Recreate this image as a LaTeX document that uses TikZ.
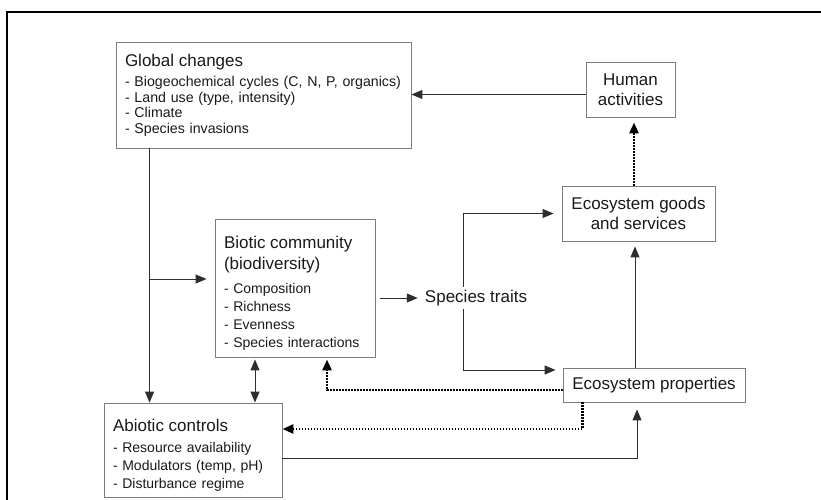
\documentclass[tikz,border=0pt]{standalone}
\usepackage{fontspec}
\setmainfont{Liberation Sans}
\usetikzlibrary{arrows.meta, positioning, calc}
\definecolor{boxgray}{RGB}{125, 125, 125}
\definecolor{linegray}{RGB}{45, 45, 45}
\definecolor{textgray}{RGB}{25, 25, 25}
\newcommand{\titlefont}{\fontsize{17}{20}\selectfont}
\newcommand{\topstrut}{\rule{0pt}{22pt}}

\begin{document}
\begin{tikzpicture}[x=1pt, y=-1pt,
    >={Triangle[length=11pt, width=9pt]},
    box/.style={draw=boxgray, line width=0.9pt, inner xsep=9pt, inner ysep=0pt, text=textgray},
    listbox/.style={box, align=left},
    flow/.style={draw=linegray, line width=1pt, ->},
    dotflow/.style={flow, draw=black, line width=2.6pt, dash pattern=on 1.6pt off 1.4pt}]
    \useasboundingbox (0,0) rectangle (821,500);

    % Frame
    \draw[line width=1.8pt] (7,500) -- (7,12) -- (821,12);

    % Boxes
    \node[listbox, text width=277pt, minimum height=106pt, font=\fontsize{14.2}{15.5}\selectfont] (glob) at (263.5,95)
        {{\titlefont Global changes}\\[5pt]
         - Biogeochemical cycles (C, N, P, organics)\\
         - Land use (type, intensity)\\
         - Climate\\
         - Species invasions};
    \node[box, align=center, font=\titlefont, minimum width=89pt, minimum height=55pt] (human) at (630.5,89.5)
        {Human\\activities};
    \node[box, align=center, font=\titlefont, minimum width=153pt, minimum height=55pt] (goods) at (638.5,213.5)
        {Ecosystem goods\\and services};
    \node[listbox, text width=142pt, minimum height=138pt, font=\fontsize{14}{18}\selectfont] (bio) at (295,288)
        {\topstrut{\titlefont Biotic community}\\[3pt]
         {\titlefont (biodiversity)}\\[6pt]
         - Composition\\
         - Richness\\
         - Evenness\\
         - Species interactions};
    \node[text=textgray, font=\titlefont, inner sep=3pt] (traits) at (476,298) {Species traits};
    \node[box, font=\titlefont, minimum width=182pt, minimum height=34pt] (props) at (654,385)
        {Ecosystem properties};
    \node[listbox, text width=160pt, minimum height=94pt, font=\fontsize{14}{18}\selectfont] (abio) at (193,450)
        {\topstrut{\titlefont Abiotic controls}\\[3pt]
         - Resource availability\\
         - Modulators (temp, pH)\\
         - Disturbance regime};

    % Connections
    \coordinate (h1) at ([yshift=-5pt]human.west);
    \draw[flow] (h1) -- (h1 -| glob.east);
    \coordinate (s1) at ([xshift=-4.5pt]goods.north);
    \draw[dotflow, shorten >=5pt] (s1) -- (s1 |- human.south);

    \coordinate (g1) at ([xshift=34pt]glob.south west);
    \coordinate (b1) at ([yshift=9pt]bio.west);
    \draw[flow] (g1) -- (g1 |- abio.north);
    \draw[flow, shorten >=8pt] (g1 |- b1) -- (b1);

    \coordinate (b2) at ([xshift=-40pt]bio.south);
    \draw[flow, <->, shorten <=2pt] (b2) -- (b2 |- abio.north);

    \draw[flow, shorten >=4pt] ([xshift=5pt]bio.east |- traits.west) -- (traits.west);
    \coordinate (t1) at ([xshift=-13pt]traits.north);
    \coordinate (t2) at ([xshift=-13pt]traits.south);
    \draw[flow, shorten >=8pt] (t1) |- (goods.west);
    \draw[flow, shorten >=7pt] (t2) |- ([yshift=15pt]props.west);

    \coordinate (p1) at ([xshift=-19pt]props.north);
    \draw[flow, shorten >=5pt] (p1) -- (p1 |- goods.south);
    \coordinate (a1) at ([yshift=-8pt]abio.east);
    \draw[flow, shorten >=7pt] (a1) -| ([xshift=-17pt]props.south);

    \coordinate (p2) at ([yshift=-5pt]props.west);
    \draw[dotflow, shorten >=2pt] (p2) -| ([xshift=32pt]bio.south);
    \coordinate (p3) at ([xshift=20pt]props.south west);
    \draw[dotflow] (p3) |- ([yshift=21pt]abio.east);
\end{tikzpicture}
\end{document}
